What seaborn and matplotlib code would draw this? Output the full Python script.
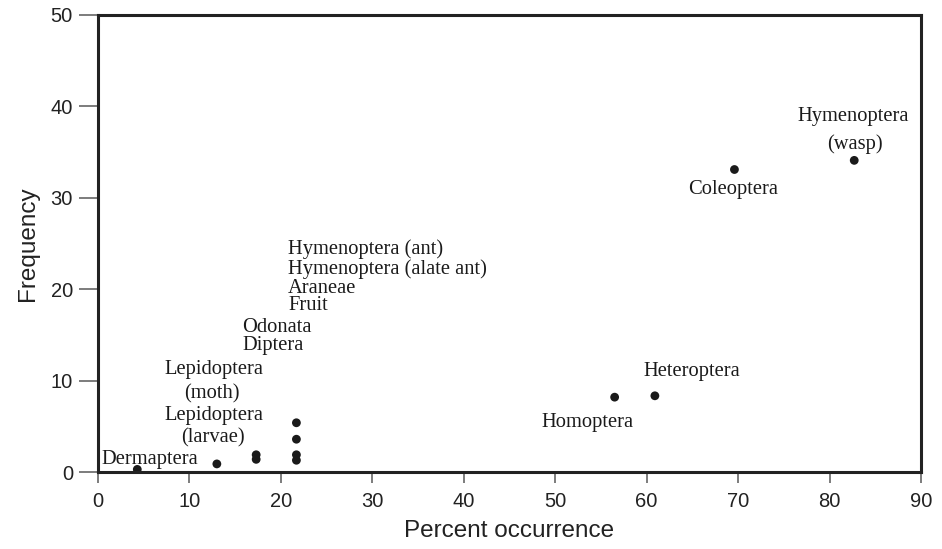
import matplotlib
matplotlib.use("Agg")
import matplotlib.pyplot as plt
import seaborn as sns
import pandas as pd

# ==========================================================
# Data
# ==========================================================

percent_occurrence = [4.3, 13.0, 17.3, 17.3, 21.7, 21.7, 21.7, 21.7,
                      56.5, 60.9, 69.6, 82.7]
frequency = [0.3, 0.9, 1.4, 1.9, 1.3, 1.9, 3.6, 5.4,
             8.2, 8.35, 33.1, 34.1]

label_texts = ["Hymenoptera (ant)", "Hymenoptera (alate ant)", "Araneae", "Fruit",
               "Odonata", "Diptera", "Lepidoptera", "(moth)", "Lepidoptera",
               "(larvae)", "Dermaptera", "Homoptera", "Heteroptera",
               "Coleoptera", "Hymenoptera", "(wasp)"]
label_x = [20.8, 20.8, 20.8, 20.8, 15.8, 15.8, 7.3, 12.5, 7.3,
           12.6, 0.4, 53.5, 64.9, 69.5, 82.6, 82.8]
label_y = [24.4, 22.2, 20.1, 18.2, 15.8, 13.8, 11.2, 8.6, 6.2,
           3.7, 1.4, 5.4, 11.0, 30.9, 38.9, 35.9]
label_ha = ["left", "left", "left", "left", "left", "left", "left", "center",
            "left", "center", "left", "center", "center", "center", "center",
            "center"]

x_ticks = list(range(0, 91, 10))
y_ticks = list(range(0, 51, 10))

# ==========================================================
# Plot
# ==========================================================

def main():

    sns.set_style("white")
    plt.rcParams["font.family"] = ["Liberation Sans", "DejaVu Sans"]

    df = pd.DataFrame({"Percent occurrence": percent_occurrence,
                       "Frequency": frequency})

    fig = plt.figure(figsize=(9.42, 5.49), dpi=100)
    ax = fig.add_axes([0.104, 0.140, 0.8737, 0.8327])

    sns.scatterplot(data=df, x="Percent occurrence", y="Frequency",
                    color="#1a1a1a", s=40, edgecolor="none", ax=ax)

    for t, x, y, ha in zip(label_texts, label_x, label_y, label_ha):
        ax.text(x, y, t, ha=ha, va="center", fontsize=14.8,
                family=["Liberation Serif", "DejaVu Serif"], color="#1a1a1a")

    ax.set_xlim(0, 90)
    ax.set_ylim(0, 50)
    ax.set_xticks(x_ticks)
    ax.set_yticks(y_ticks)

    for sp in ax.spines.values():
        sp.set_linewidth(2.2)
        sp.set_color("#222222")

    ax.tick_params(axis="x", direction="out", length=8, width=1.2,
                   color="#666666", labelsize=14.5, pad=6, labelcolor="#222222")
    ax.tick_params(axis="y", direction="out", length=14, width=1.2,
                   color="#666666", labelsize=14.5, pad=4, labelcolor="#222222")
    ax.tick_params(bottom=True, left=True)

    ax.set_xlabel("Percent occurrence", fontsize=17.5, color="#222222", labelpad=7)
    ax.set_ylabel("Frequency", fontsize=17.5, color="#222222", labelpad=8)

    fig.savefig("out.png", dpi=100)
    plt.close(fig)


if __name__ == "__main__":
    main()
